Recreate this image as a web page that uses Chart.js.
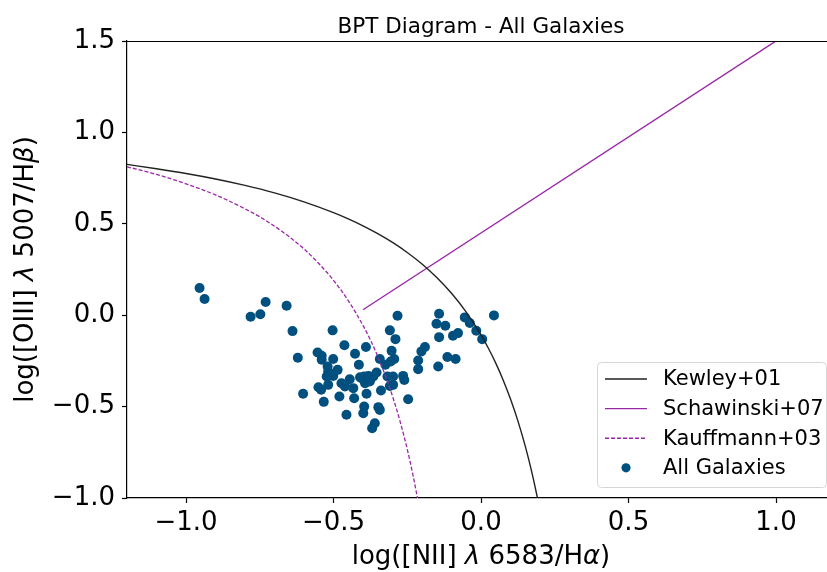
<!DOCTYPE html>
<html>
<head>
<meta charset="utf-8">
<script src="https://cdn.jsdelivr.net/npm/chart.js@4.4.1/dist/chart.umd.min.js"></script>
<style>
  html, body { margin: 0; padding: 0; background: #fff; }
  #wrap { width: 827px; height: 572px; overflow: hidden; }
</style>
</head>
<body>
<div id="wrap"><canvas id="bpt" width="840" height="572"></canvas></div>
<script>
// demarcation curves
const kewleyX = [-1.2, -1.1, -1.0, -0.9, -0.8, -0.7, -0.6, -0.5, -0.45, -0.4, -0.35, -0.3, -0.25, -0.2, -0.15, -0.1, -0.05, 0.0, 0.025, 0.05, 0.075, 0.1, 0.125, 0.15, 0.17, 0.19, 0.2];
const kewleyY = [0.825, 0.801, 0.775, 0.745, 0.710, 0.669, 0.620, 0.561, 0.527, 0.489, 0.446, 0.398, 0.343, 0.280, 0.206, 0.120, 0.017, -0.108, -0.181, -0.262, -0.354, -0.459, -0.578, -0.716, -0.843, -0.989, -1.069];

const kauffX = [-1.2, -1.1, -1.0, -0.9, -0.8, -0.75, -0.7, -0.65, -0.6, -0.55, -0.5, -0.45, -0.4, -0.375, -0.35, -0.325, -0.3, -0.275, -0.25, -0.23, -0.21];
const kauffY = [0.812, 0.770, 0.719, 0.658, 0.582, 0.538, 0.487, 0.429, 0.362, 0.283, 0.191, 0.080, -0.056, -0.135, -0.225, -0.327, -0.443, -0.577, -0.733, -0.879, -1.046];

const schawX = [-0.4, 1.2];
const schawY = [0.03, 1.71];

// galaxies
const galX = [-0.954, -0.937, -0.730, -0.781, -0.748, -0.659, -0.639, -0.621, -0.603, -0.503,
  -0.533, -0.456, -0.463, -0.554, -0.540, -0.540, -0.501, -0.520, -0.486, -0.518,
  -0.523, -0.501, -0.518, -0.551, -0.542, -0.473, -0.461, -0.433, -0.480, -0.430,
  -0.427, -0.390, -0.414, -0.410, -0.396, -0.382, -0.365, -0.354, -0.393, -0.377,
  -0.388, -0.396, -0.399, -0.360, -0.369, -0.343, -0.348, -0.339, -0.309, -0.298,
  -0.317, -0.298, -0.264, -0.260, -0.247, -0.343, -0.324, -0.306, -0.294, -0.303,
  -0.309, -0.290, -0.283, -0.213, -0.213, -0.202, -0.190, -0.145, -0.114, -0.086,
  -0.142, -0.151, -0.121, -0.142, -0.095, -0.078, -0.055, -0.038, -0.016, 0.004, 0.044,
  -0.510, -0.445, -0.405, -0.375];
const galY = [0.149, 0.089, 0.072, -0.008, 0.005, 0.052, -0.087, -0.233, -0.430, -0.083,
  -0.474, -0.545, -0.164, -0.204, -0.222, -0.244, -0.240, -0.281, -0.299, -0.308,
  -0.335, -0.332, -0.381, -0.394, -0.408, -0.372, -0.390, -0.399, -0.445, -0.454,
  -0.211, -0.174, -0.271, -0.339, -0.335, -0.332, -0.335, -0.313, -0.372, -0.363,
  -0.430, -0.500, -0.536, -0.591, -0.618, -0.518, -0.503, -0.412, -0.387, -0.381,
  -0.335, -0.335, -0.332, -0.354, -0.460, -0.240, -0.271, -0.253, -0.240, -0.195,
  -0.083, -0.131, -0.003, -0.295, -0.248, -0.198, -0.174, -0.281, -0.229, -0.240,
  0.008, -0.047, -0.058, -0.120, -0.112, -0.098, -0.012, -0.043, -0.085, -0.131, -0.001,
  -0.320, -0.350, -0.345, -0.350];

const xTicks = [-1.0, -0.5, 0.0, 0.5, 1.0];
const yTicks = [-1.0, -0.5, 0.0, 0.5, 1.0, 1.5];

const FONT = "'DejaVu Sans', sans-serif";
const PURPLE = "#9a26a8";
const DOT = "#00507f";

function pts(xs, ys) {
  return xs.map((x, i) => ({ x: x, y: ys[i] }));
}
function fmt(v) {
  return (v < 0 ? "\u2212" : "") + Math.abs(v).toFixed(1);
}

// draw text made of normal / italic pieces
function richText(ctx, parts, size) {
  let w = 0;
  parts.forEach(p => {
    ctx.font = (p[1] ? "italic " : "") + size + "px " + FONT;
    w += ctx.measureText(p[0]).width;
  });
  let x = -w / 2;
  parts.forEach(p => {
    ctx.font = (p[1] ? "italic " : "") + size + "px " + FONT;
    ctx.fillText(p[0], x, 0);
    x += ctx.measureText(p[0]).width;
  });
}

const extras = {
  id: "extras",
  afterDraw(chart) {
    const ctx = chart.ctx;
    const a = chart.chartArea;
    ctx.save();
    // top spine
    ctx.strokeStyle = "#000";
    ctx.lineWidth = 1;
    ctx.beginPath();
    ctx.moveTo(a.left, Math.round(a.top) + 0.5);
    ctx.lineTo(a.right, Math.round(a.top) + 0.5);
    ctx.stroke();

    ctx.fillStyle = "#000";
    ctx.textAlign = "left";
    ctx.textBaseline = "alphabetic";
    const cx = (a.left + a.right) / 2;

    // title
    ctx.save();
    ctx.translate(cx, 33);
    richText(ctx, [["BPT Diagram - All Galaxies", false]], 21.5);
    ctx.restore();

    // x label
    ctx.save();
    ctx.translate(cx, 564);
    richText(ctx, [["log([NII] ", false], ["\u03bb", true], [" 6583/H", false], ["\u03b1", true], [")", false]], 26);
    ctx.restore();

    // y label
    ctx.save();
    ctx.translate(33, (a.top + a.bottom) / 2);
    ctx.rotate(-Math.PI / 2);
    richText(ctx, [["log([OIII] ", false], ["\u03bb", true], [" 5007/H", false], ["\u03b2", true], [")", false]], 26);
    ctx.restore();

    // legend
    const lx = 597, ly = 362, lw = 229, lh = 125;
    ctx.fillStyle = "rgba(255,255,255,0.85)";
    ctx.strokeStyle = "#d6d6d6";
    ctx.lineWidth = 1;
    ctx.beginPath();
    ctx.roundRect(lx + 0.5, ly + 0.5, lw, lh, 4);
    ctx.fill();
    ctx.stroke();

    const rows = [
      ["Kewley+01", "#222", [], "line"],
      ["Schawinski+07", PURPLE, [], "line"],
      ["Kauffmann+03", PURPLE, [4, 2], "line"],
      ["All Galaxies", DOT, [], "dot"]
    ];
    ctx.font = "21px " + FONT;
    ctx.textBaseline = "middle";
    rows.forEach((r, i) => {
      const y = 379 + i * 29.6;
      if (r[3] === "line") {
        ctx.strokeStyle = r[1];
        ctx.lineWidth = 1.4;
        ctx.setLineDash(r[2]);
        ctx.beginPath();
        ctx.moveTo(605, y);
        ctx.lineTo(647, y);
        ctx.stroke();
        ctx.setLineDash([]);
      } else {
        ctx.fillStyle = DOT;
        ctx.beginPath();
        ctx.arc(626, y, 4.6, 0, Math.PI * 2);
        ctx.fill();
      }
      ctx.fillStyle = "#000";
      ctx.fillText(r[0], 663, y + 1);
    });
    ctx.restore();
  }
};

new Chart(document.getElementById("bpt").getContext("2d"), {
  type: "scatter",
  data: {
    datasets: [
      {
        label: "Kewley+01",
        data: pts(kewleyX, kewleyY),
        showLine: true,
        borderColor: "#222",
        borderWidth: 1.4,
        pointRadius: 0,
        cubicInterpolationMode: "monotone"
      },
      {
        label: "Schawinski+07",
        data: pts(schawX, schawY),
        showLine: true,
        borderColor: PURPLE,
        borderWidth: 1.4,
        pointRadius: 0
      },
      {
        label: "Kauffmann+03",
        data: pts(kauffX, kauffY),
        showLine: true,
        borderColor: PURPLE,
        borderWidth: 1.3,
        borderDash: [4, 2],
        pointRadius: 0,
        cubicInterpolationMode: "monotone"
      },
      {
        label: "All Galaxies",
        data: pts(galX, galY),
        backgroundColor: DOT,
        borderWidth: 0,
        pointRadius: 5
      }
    ]
  },
  options: {
    responsive: false,
    animation: false,
    layout: { padding: { top: 41, right: 2, left: 0, bottom: 0 } },
    plugins: { legend: { display: false }, tooltip: { enabled: false } },
    scales: {
      x: {
        type: "linear",
        min: -1.2,
        max: 1.2,
        afterFit(s) { s.height = 74; },
        afterBuildTicks(s) { s.ticks = xTicks.map(v => ({ value: v })); },
        ticks: { color: "#000", padding: 5, maxRotation: 0, font: { family: FONT, size: 26 }, callback: v => fmt(v) },
        grid: { drawOnChartArea: false, tickLength: 5, tickColor: "#000", tickWidth: 1.2 },
        border: { color: "#000", width: 1.2 }
      },
      y: {
        type: "linear",
        min: -1.0,
        max: 1.5,
        afterFit(s) { s.width = 127; },
        afterBuildTicks(s) { s.ticks = yTicks.map(v => ({ value: v })); },
        ticks: { color: "#000", padding: 7, font: { family: FONT, size: 26 }, callback: v => fmt(v) },
        grid: { drawOnChartArea: false, tickLength: 5, tickColor: "#000", tickWidth: 1.2 },
        border: { color: "#000", width: 1.2 }
      }
    }
  },
  plugins: [extras]
});
</script>
</body>
</html>
